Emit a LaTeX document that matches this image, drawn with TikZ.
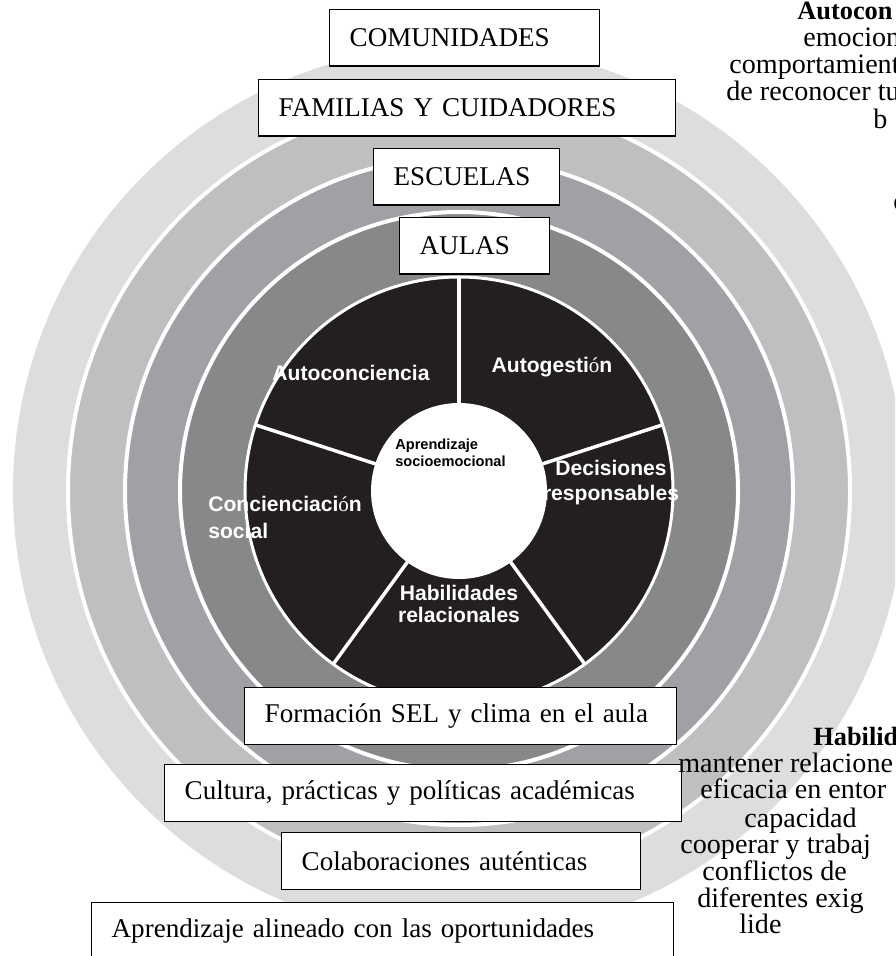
\documentclass[tikz,border=0pt]{standalone}
\usepackage{fontspec}
\setmainfont{Liberation Serif}
\setsansfont{Liberation Sans}
\usepackage{tikz}
\definecolor{ringa}{HTML}{DCDDDF}
\definecolor{ringb}{HTML}{BEBFC1}
\definecolor{ringc}{HTML}{A0A1A4}
\definecolor{ringd}{HTML}{87888A}
\definecolor{pieblack}{HTML}{231F20}

\begin{document}
\begin{tikzpicture}[
  lvlbox/.style={draw=black, fill=white, line width=0.8pt, anchor=north west, align=left,
    inner xsep=0.4cm, minimum height=1.13cm, font=\fontsize{15.4}{18}\selectfont},
  pielabel/.style={white, inner sep=0pt, font=\sffamily\bfseries\fontsize{12}{14}\selectfont},
  sidetext/.style={anchor=base west, inner sep=0pt, font=\fontsize{16}{18}\selectfont}
]

\useasboundingbox (0,0) rectangle (17.9,-19.12);
\clip (0,0) rectangle (17.9,-19.12);

\coordinate (c) at (9.18,-9.82);

\fill[ringa] (c) circle (8.92);
\begin{scope}[draw=white, line width=0.08cm]
\filldraw[fill=ringb] (c) circle (7.82);
\filldraw[fill=ringc] (c) circle (6.68);
\filldraw[fill=ringd] (c) circle (5.58);
\filldraw[fill=pieblack, line width=0.06cm] (c) circle (4.28);
\end{scope}

\foreach \a in {90,162,234,306,18}
  \draw[white, line width=0.07cm] (c) -- ++(\a:4.28);
\fill[white] (c) circle (1.76);

\node[pielabel, anchor=base] (selfaware) at (7.02,-7.60) {Autoconciencia};
\node[pielabel, anchor=base] (selfmgmt) at (11.04,-7.44) {Autogesti{\rmfamily\mdseries ó}n};
\node[pielabel, align=center, font=\sffamily\bfseries\fontsize{12}{14.2}\selectfont] (decisions) at (12.22,-9.66) {Decisiones\\responsables};
\node[pielabel, align=left, anchor=west, font=\sffamily\bfseries\fontsize{12}{15.4}\selectfont] (socialaware) at (4.16,-10.34) {Concienciaci{\rmfamily\mdseries ó}n\\social};
\node[pielabel, align=center, font=\sffamily\bfseries\fontsize{12}{13}\selectfont] (relskills) at (9.18,-12.08) {Habilidades\\relacionales};
\node[inner sep=0pt, align=left, anchor=west, font=\sffamily\bfseries\fontsize{8.3}{9.7}\selectfont] (sel) at (7.90,-9.05) {Aprendizaje\\socioemocional};

\node[lvlbox, text width=4.60cm] (comunidades) at (6.58,-0.18) {\mbox{COMUNIDADES}};
\node[lvlbox, text width=7.54cm] (familias) at (5.16,-1.58) {\mbox{FAMILIAS Y CUIDADORES}};
\node[lvlbox, text width=2.92cm] (escuelas) at (7.46,-2.96) {\mbox{ESCUELAS}};
\node[lvlbox, text width=2.20cm] (aulas) at (7.98,-4.34) {\mbox{AULAS}};

\node[lvlbox, text width=7.84cm] (formacion) at (4.88,-13.74) {\mbox{Formación SEL y clima en el aula}};
\node[lvlbox, text width=9.54cm] (cultura) at (3.28,-15.28) {\mbox{Cultura, prácticas y políticas académicas}};
\node[lvlbox, text width=6.38cm] (colab) at (5.62,-16.64) {\mbox{Colaboraciones auténticas}};
\node[lvlbox, text width=10.84cm] (alineado) at (1.82,-18.04) {\mbox{Aprendizaje alineado con las oportunidades}};

\node[sidetext, font=\bfseries\fontsize{15}{18}\selectfont] (sa1) at (15.94,-0.40) {Autocon};
\node[sidetext] (sa2) at (16.06,-0.94) {emocion};
\node[sidetext] (sa3) at (14.58,-1.47) {comportamiento};
\node[sidetext] (sa4) at (14.52,-2.01) {de reconocer tu};
\node[sidetext] (sa5) at (17.46,-2.57) {b};
\node[sidetext] (sa6) at (17.86,-4.22) {c};

\node[sidetext, font=\bfseries\fontsize{15}{18}\selectfont] (rs1) at (16.26,-14.90) {Habilida};
\node[sidetext] (rs2) at (13.56,-15.44) {mantener relacione};
\node[sidetext] (rs3) at (14.00,-15.96) {eficacia en entor};
\node[sidetext] (rs4) at (14.88,-16.54) {capacidad};
\node[sidetext] (rs5) at (13.60,-17.06) {cooperar y trabaj};
\node[sidetext] (rs6) at (14.04,-17.60) {conflictos de};
\node[sidetext] (rs7) at (13.94,-18.14) {diferentes exig};
\node[sidetext] (rs8) at (14.78,-18.66) {lide};

\end{tikzpicture}
\end{document}
